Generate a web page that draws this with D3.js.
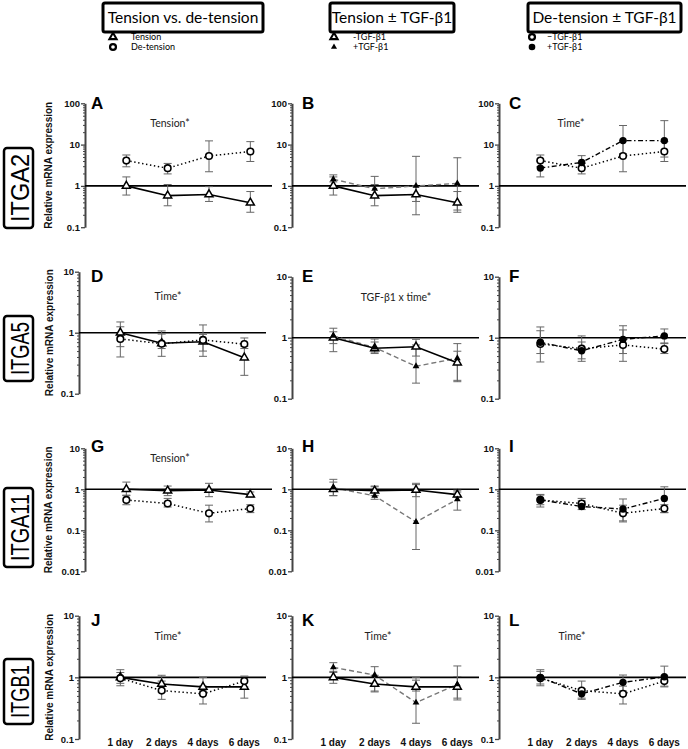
<!DOCTYPE html>
<html>
<head>
<meta charset="utf-8">
<script src="https://cdn.jsdelivr.net/npm/d3@7"></script>
<style>
  body { margin: 0; background: #fff; }
  svg { display: block; }
</style>
</head>
<body>
<svg id="chart"></svg>
<script>
// ---- data ----
const days = ['1 day', '2 days', '4 days', '6 days']
const genes = ['ITGA2', 'ITGA5', 'ITGA11', 'ITGB1']
const columnTitles = ['Tension vs. de-tension', 'Tension \u00b1 TGF-\u03b21', 'De-tension \u00b1 TGF-\u03b21']
const legendLabels = [
  ['Tension', 'De-tension'],
  ['-TGF-\u03b21', '+TGF-\u03b21'],
  ['\u2212TGF-\u03b21', '+TGF-\u03b21']
]
const panelLetters = ['A', 'B', 'C', 'D', 'E', 'F', 'G', 'H', 'I', 'J', 'K', 'L']
const annotations = ['Tension*', '', 'Time*', 'Time*', 'TGF-\u03b21 x time*', '', 'Tension*', '', '', 'Time*', 'Time*', 'Time*']
const yTickValues = [[0.1, 1, 10, 100], [0.1, 1, 10], [0.01, 0.1, 1, 10], [0.1, 1, 10]]

// ITGA2
const itga2Tension = [1.0, 0.58, 0.62, 0.39]
const itga2TensionErr = [[0.6, 1.65], [0.33, 1.08], [0.42, 0.96], [0.23, 0.73]]
const itga2Detension = [4.1, 2.68, 5.3, 6.8]
const itga2DetensionErr = [[2.9, 5.6], [1.95, 3.5], [2.2, 12.3], [3.9, 11.8]]
const itga2TensionTgf = [1.45, 0.85, 1.0, 1.15]
const itga2TensionTgfErr = [[1.25, 1.85], [0.55, 1.7], [0.2, 5.2], [0.26, 4.8]]
const itga2DetensionTgf = [2.7, 3.7, 12.5, 12.5]
const itga2DetensionTgfErr = [[1.65, 4.0], [2.8, 5.4], [6, 29], [5, 38]]

// ITGA5
const itga5Tension = [1.0, 0.67, 0.71, 0.39]
const itga5TensionErr = [[0.59, 1.25], [0.55, 0.95], [0.5, 0.94], [0.2, 0.6]]
const itga5Detension = [0.79, 0.66, 0.76, 0.65]
const itga5DetensionErr = [[0.4, 1.5], [0.41, 1.07], [0.41, 1.34], [0.55, 0.82]]
const itga5TensionTgf = [1.07, 0.69, 0.34, 0.46]
const itga5TensionTgfErr = [[0.8, 1.43], [0.58, 0.85], [0.18, 0.76], [0.19, 0.8]]
const itga5DetensionTgf = [0.84, 0.61, 0.94, 1.07]
const itga5DetensionTgfErr = [[0.55, 1.3], [0.45, 0.85], [0.55, 1.57], [0.8, 1.39]]

// ITGA11
const itga11Tension = [1.0, 0.92, 0.96, 0.74]
const itga11TensionErr = [[0.7, 1.5], [0.7, 1.2], [0.66, 1.4], [0.65, 0.86]]
const itga11Detension = [0.55, 0.45, 0.26, 0.34]
const itga11DetensionErr = [[0.42, 0.72], [0.37, 0.6], [0.16, 0.41], [0.27, 0.42]]
const itga11TensionTgf = [1.1, 0.69, 0.16, 0.57]
const itga11TensionTgfErr = [[0.7, 1.75], [0.57, 1.15], [0.034, 1.3], [0.31, 0.95]]
const itga11DetensionTgf = [0.55, 0.38, 0.33, 0.6]
const itga11DetensionTgfErr = [[0.37, 0.75], [0.32, 0.52], [0.17, 0.58], [0.27, 1.15]]

// ITGB1
const itgb1Tension = [1.0, 0.78, 0.7, 0.7]
const itgb1TensionErr = [[0.8, 1.2], [0.58, 1.08], [0.6, 1.0], [0.46, 1.03]]
const itgb1Detension = [0.97, 0.61, 0.54, 0.87]
const itgb1DetensionErr = [[0.73, 1.33], [0.44, 0.87], [0.37, 0.72], [0.7, 1.05]]
const itgb1TensionTgf = [1.45, 1.09, 0.39, 0.77]
const itgb1TensionTgfErr = [[1.25, 1.73], [0.6, 1.49], [0.18, 0.9], [0.43, 1.53]]
const itgb1DetensionTgf = [1.0, 0.54, 0.83, 1.02]
const itgb1DetensionTgfErr = [[0.78, 1.25], [0.46, 0.65], [0.6, 1.09], [0.72, 1.52]]

const geneSeries = [
  { tension: [itga2Tension, itga2TensionErr], detension: [itga2Detension, itga2DetensionErr],
    tensionTgf: [itga2TensionTgf, itga2TensionTgfErr], detensionTgf: [itga2DetensionTgf, itga2DetensionTgfErr] },
  { tension: [itga5Tension, itga5TensionErr], detension: [itga5Detension, itga5DetensionErr],
    tensionTgf: [itga5TensionTgf, itga5TensionTgfErr], detensionTgf: [itga5DetensionTgf, itga5DetensionTgfErr] },
  { tension: [itga11Tension, itga11TensionErr], detension: [itga11Detension, itga11DetensionErr],
    tensionTgf: [itga11TensionTgf, itga11TensionTgfErr], detensionTgf: [itga11DetensionTgf, itga11DetensionTgfErr] },
  { tension: [itgb1Tension, itgb1TensionErr], detension: [itgb1Detension, itgb1DetensionErr],
    tensionTgf: [itgb1TensionTgf, itgb1TensionTgfErr], detensionTgf: [itgb1DetensionTgf, itgb1DetensionTgfErr] }
]
const columnSeries = [['tension', 'detension'], ['tension', 'tensionTgf'], ['detension', 'detensionTgf']]

// ---- layout / styles ----
const width = 688
const height = 749
const rowLayout = [
  { top: [103.3, 103.3, 103.3], bottom: [227.2, 227.2, 227.2], left0: 85, letterBase: 108.5 },
  { top: [271.7, 276.7, 276.7], bottom: [393.7, 398.7, 398.7], left0: 79, letterBase: 282 },
  { top: [448.3, 448.3, 448.3], bottom: [571.3, 571.3, 571.3], left0: 85, letterBase: 451.8 },
  { top: [615.7, 615.7, 615.7], bottom: [739, 739, 739], left0: 79, letterBase: 625.5 }
]
const colLeft = [null, 292, 499]
const letterX = [91, 302, 509]
const annotPos = [[170, 123], null, [571, 123], [168, 296], [396, 297], null, [170, 458], null, null, [168, 636], [378, 636], [572, 636]]
const geneBoxes = [[148, 80], [316, 65], [488, 79], [659, 65]]
const headerBoxes = [[103, 263], [330, 454], [528, 681]]
const legendMarkX = [113, 334, 532]
const legendTextX = [131, 353, 547]

const seriesStyle = {
  tension: { stroke: '#000', width: 1.6, dash: null, marker: 'openTri' },
  detension: { stroke: '#000', width: 1.5, dash: '1.4,2.6', marker: 'openCircle' },
  tensionTgf: { stroke: '#777', width: 1.4, dash: '5,3', marker: 'fillTri' },
  detensionTgf: { stroke: '#000', width: 1.4, dash: '5,2.5,1.5,2.5', marker: 'fillCircle' }
}

const svg = d3.select('#chart').attr('width', width).attr('height', height)
  .attr('viewBox', `0 0 ${width} ${height}`)

const boldFont = 'Liberation Sans, Arial, sans-serif'
const softFont = 'Lato, Open Sans, sans-serif'

function drawMarker(g, type, x, y, scale = 1, sw = 1) {
  if (type === 'openTri') {
    g.append('path').attr('d', d3.symbol(d3.symbolTriangle, 28 * scale)())
      .attr('transform', `translate(${x},${y})`)
      .attr('fill', '#fff').attr('stroke', '#000').attr('stroke-width', 1.5 * sw)
  } else if (type === 'openCircle') {
    g.append('circle').attr('cx', x).attr('cy', y).attr('r', 3.3 * Math.sqrt(scale))
      .attr('fill', '#fff').attr('stroke', '#000').attr('stroke-width', 1.6 * sw)
  } else if (type === 'fillTri') {
    g.append('path').attr('d', d3.symbol(d3.symbolTriangle, 20 * scale)())
      .attr('transform', `translate(${x},${y})`).attr('fill', '#000')
  } else {
    g.append('circle').attr('cx', x).attr('cy', y).attr('r', 3.7 * Math.sqrt(scale)).attr('fill', '#000')
  }
}

// ---- header ----
columnTitles.forEach((title, c) => {
  const [x0, x1] = headerBoxes[c]
  svg.append('rect').attr('x', x0).attr('y', 3).attr('width', x1 - x0).attr('height', 29)
    .attr('rx', 2).attr('fill', '#fff').attr('stroke', '#000').attr('stroke-width', 3)
  svg.append('text').attr('x', (x0 + x1) / 2).attr('y', 23).attr('text-anchor', 'middle')
    .attr('font-family', softFont).attr('font-size', 15.5).text(title)
  const markers = columnSeries[c].map(s => seriesStyle[s].marker)
  legendLabels[c].forEach((lab, i) => {
    const y = 37 + i * 10
    drawMarker(svg, markers[i], legendMarkX[c], y, 0.8, 1.4)
    svg.append('text').attr('x', legendTextX[c]).attr('y', y + 3.2)
      .attr('font-family', softFont).attr('font-size', 9).text(lab)
  })
})

// ---- panels ----
genes.forEach((gene, r) => {
  const lay = rowLayout[r]

  // gene label box, tall narrow lettering fitted to the box
  const [boxTop, boxH] = geneBoxes[r]
  svg.append('rect').attr('x', 4).attr('y', boxTop).attr('width', 29).attr('height', boxH)
    .attr('rx', 3).attr('fill', '#fff').attr('stroke', '#000').attr('stroke-width', 2.5)
  svg.append('text')
    .attr('transform', `translate(28.5,${boxTop + boxH / 2}) rotate(-90)`)
    .attr('font-family', boldFont).attr('font-size', 26).attr('text-anchor', 'middle')
    .attr('textLength', boxH - 12).attr('lengthAdjust', 'spacingAndGlyphs').text(gene)

  for (let c = 0; c < 3; c++) {
    const idx = r * 3 + c
    const left = c === 0 ? lay.left0 : colLeft[c]
    const top = lay.top[c]
    const bottom = lay.bottom[c]
    const ticks = yTickValues[r]
    const domain = [ticks[0], ticks[ticks.length - 1]]

    const x = d3.scaleLinear().domain([0, 4.5]).range([left, left + 186])
    const y = d3.scaleLog().domain(domain).range([bottom, top])

    const g = svg.append('g')

    // minor ticks
    const minor = []
    for (let d = domain[0]; d < domain[1] * 0.99; d *= 10) {
      for (let k = 2; k <= 9; k++) minor.push(d * k)
    }
    g.append('g').attr('transform', `translate(${left},0)`)
      .call(d3.axisLeft(y).tickValues(minor).tickSize(2).tickFormat(''))
      .call(a => a.select('.domain').remove())
      .call(a => a.selectAll('line').attr('stroke', '#444').attr('stroke-width', 1))

    // major axis
    g.append('g').attr('transform', `translate(${left},0)`)
      .call(d3.axisLeft(y).tickValues(ticks).tickSize(4).tickSizeOuter(0).tickPadding(1)
        .tickFormat(d => d >= 1 ? d3.format('d')(d) : String(d)))
      .call(a => a.select('.domain').attr('stroke', '#444').attr('stroke-width', 2))
      .call(a => a.selectAll('.tick line').attr('stroke', '#444').attr('stroke-width', 1.3))
      .call(a => a.selectAll('text').attr('font-family', boldFont).attr('font-weight', 'bold')
        .attr('font-size', 9.5).attr('fill', '#111'))

    // reference line at 1
    g.append('line').attr('x1', left).attr('x2', left + 187).attr('y1', y(1)).attr('y2', y(1))
      .attr('stroke', '#000').attr('stroke-width', 1.6)

    // y label (first column)
    if (c === 0) {
      g.append('text').attr('transform', `translate(${lay.left0 === 85 ? 51.5 : 52.5},${(top + bottom) / 2}) rotate(-90)`)
        .attr('text-anchor', 'middle').attr('font-family', boldFont).attr('font-weight', 'bold')
        .attr('font-size', 10).attr('fill', '#111').text('Relative mRNA expression')
    }

    // panel letter
    g.append('text').attr('x', letterX[c]).attr('y', lay.letterBase)
      .attr('font-family', boldFont).attr('font-weight', 'bold').attr('font-size', 17).text(panelLetters[idx])

    // annotation
    if (annotations[idx]) {
      g.append('text').attr('x', annotPos[idx][0]).attr('y', annotPos[idx][1] + 3.5)
        .attr('text-anchor', 'middle').attr('font-family', softFont).attr('font-size', 10.5)
        .attr('fill', '#222').text(annotations[idx])
    }

    const keys = columnSeries[c]
    const series = keys.map(k => ({ key: k, values: geneSeries[r][k][0], err: geneSeries[r][k][1] }))

    // error bars
    series.forEach(s => {
      s.err.forEach(([lo, hi], i) => {
        const px = x(i + 1)
        const eb = g.append('g').attr('stroke', '#666').attr('stroke-width', 1)
        eb.append('line').attr('x1', px).attr('x2', px).attr('y1', y(lo)).attr('y2', y(hi))
        eb.append('line').attr('x1', px - 4).attr('x2', px + 4).attr('y1', y(lo)).attr('y2', y(lo))
        eb.append('line').attr('x1', px - 4).attr('x2', px + 4).attr('y1', y(hi)).attr('y2', y(hi))
      })
    })

    // lines
    const line = d3.line().x((d, i) => x(i + 1)).y(d => y(d))
    series.slice().reverse().forEach(s => {
      const st = seriesStyle[s.key]
      g.append('path').datum(s.values).attr('d', line).attr('fill', 'none')
        .attr('stroke', st.stroke).attr('stroke-width', st.width)
        .attr('stroke-dasharray', st.dash)
    })

    // markers
    series.forEach(s => {
      s.values.forEach((v, i) => drawMarker(g, seriesStyle[s.key].marker, x(i + 1), y(v)))
    })

    // x labels on bottom row
    if (r === genes.length - 1) {
      days.forEach((d, i) => {
        g.append('text').attr('x', x(i + 1)).attr('y', 745.5).attr('text-anchor', 'middle')
          .attr('font-family', boldFont).attr('font-weight', 'bold').attr('font-size', 10)
          .attr('fill', '#111').text(d)
      })
    }
  }
})
</script>
</body>
</html>
